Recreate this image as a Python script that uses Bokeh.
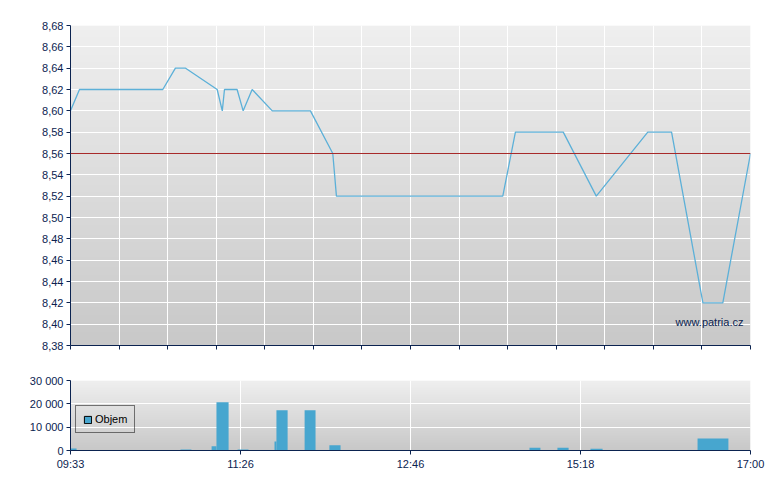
import numpy as np
from bokeh.plotting import figure
from bokeh.models import (Range1d, FixedTicker, CustomJSTickFormatter, Span, Label,
                          Legend, LegendItem, ColumnDataSource)
from bokeh.layouts import column
from bokeh.embed import file_html
from bokeh.resources import INLINE

# ---- data -------------------------------------------------------------
# x positions on the (trade-indexed) time axis, 0 = 09:33 ... 28 = 17:00
price_x = [0.00, 0.37, 3.80, 4.32, 4.74, 6.04, 6.25, 6.34, 6.86, 7.11, 7.48, 8.31,
           9.88, 10.80, 10.95, 17.80, 18.32, 20.29, 21.65, 23.77, 24.75, 26.04,
           26.86, 28.00]
price_y = [8.60, 8.62, 8.62, 8.64, 8.64, 8.62, 8.60, 8.62, 8.62, 8.60, 8.62, 8.60,
           8.60, 8.56, 8.52, 8.52, 8.58, 8.58, 8.52, 8.58, 8.58, 8.42, 8.42, 8.56]
ref_price = 8.56

vol_left = [0.00, 4.53, 5.81, 6.01, 6.88, 8.40, 8.48, 9.64, 10.66, 18.90, 20.05, 21.41, 25.82]
vol_right = [0.25, 4.98, 6.01, 6.51, 7.33, 8.48, 8.94, 10.09, 11.12, 19.35, 20.51, 21.91, 27.09]
vol_value = [900, 400, 1800, 20700, 400, 3900, 17300, 17300, 2200, 1200, 1200, 800, 5100]

x_grid_pos = [0, 2, 4, 6, 8, 10, 12, 14, 16, 18, 20, 22, 24, 26, 28]
x_tick_pos = [0, 7, 14, 21, 28]
x_tick_labels = ["09:33", "11:26", "12:46", "15:18", "17:00"]
price_ticks = [8.38, 8.40, 8.42, 8.44, 8.46, 8.48, 8.50, 8.52, 8.54, 8.56,
               8.58, 8.60, 8.62, 8.64, 8.66, 8.68]
vol_ticks = [0, 10000, 20000, 30000]

# ---- style ------------------------------------------------------------
NAVY = "#0b2350"
LINE = "#5cb0d8"
BAR = "#47a6cf"
FONT = "Liberation Sans"
FS = "11px"


def gradient(p, x0, x1, y0, y1, top=0xEF, bottom=0xC8):
    n = 128
    img = np.zeros((n, 1), dtype=np.uint32)
    v = img.view(dtype=np.uint8).reshape((n, 1, 4))
    for i in range(n):
        c = int(round(bottom + (top - bottom) * i / (n - 1)))
        v[i, 0, 0] = c
        v[i, 0, 1] = c
        v[i, 0, 2] = c
        v[i, 0, 3] = 255
    r = p.image_rgba(image=[img], x=x0, y=y0, dw=x1 - x0, dh=y1 - y0)
    r.level = "image"
    return r


def style_axis(ax):
    ax.axis_line_color = NAVY
    ax.axis_line_width = 1
    ax.major_tick_line_color = NAVY
    ax.major_tick_out = 4
    ax.major_tick_in = 0
    ax.minor_tick_line_color = None
    ax.major_label_text_color = NAVY
    ax.major_label_text_font = FONT
    ax.major_label_text_font_size = FS
    ax.major_label_standoff = 3


# ---- main price chart -------------------------------------------------
p = figure(frame_width=680, frame_height=320, output_backend="svg",
           toolbar_location=None, x_range=Range1d(0, 28),
           y_range=Range1d(8.38, 8.68),
           min_border_left=70, min_border_right=28, min_border_top=25,
           min_border_bottom=15)
p.outline_line_color = None
p.background_fill_color = "white"
p.border_fill_color = "white"
gradient(p, 0, 28, 8.38, 8.68)

p.xaxis.ticker = FixedTicker(ticks=x_grid_pos)
p.yaxis.ticker = FixedTicker(ticks=price_ticks)
p.yaxis.formatter = CustomJSTickFormatter(code="return tick.toFixed(2).replace('.', ',');")
style_axis(p.xaxis[0])
style_axis(p.yaxis[0])
p.xaxis.formatter = CustomJSTickFormatter(code="return '';")
p.xaxis.major_label_standoff = 0
for g in (p.xgrid[0], p.ygrid[0]):
    g.grid_line_color = "white"
    g.grid_line_width = 1

p.line(price_x, price_y, line_color=LINE, line_width=1.3)
p.add_layout(Span(location=ref_price, dimension="width", line_color="#a82a2a",
                  line_width=1))
p.add_layout(Label(x=27.71, y=8.396, text="www.patria.cz", text_align="right",
                   text_font=FONT, text_font_size=FS, text_color=NAVY))

# ---- volume chart -----------------------------------------------------
q = figure(frame_width=680, frame_height=70, output_backend="svg",
           toolbar_location=None, x_range=Range1d(0, 28),
           y_range=Range1d(0, 30000),
           min_border_left=70, min_border_right=28, min_border_top=20,
           min_border_bottom=25)
q.outline_line_color = None
q.background_fill_color = "white"
q.border_fill_color = "white"

vol_src = ColumnDataSource(dict(left=vol_left, right=vol_right, top=vol_value))
# legend swatch: black-edged copy of the bars, hidden underneath the background gradient
swatch = q.quad(left="left", right="right", bottom=0, top="top", source=vol_src,
                fill_color=BAR, line_color="black", line_width=1)
swatch.level = "image"
gradient(q, 0, 28, 0, 30000)

q.xaxis.ticker = FixedTicker(ticks=x_tick_pos)
q.xaxis.formatter = CustomJSTickFormatter(
    args=dict(pos=x_tick_pos, labels=x_tick_labels),
    code="const i = pos.indexOf(tick); return i >= 0 ? labels[i] : '';")
q.yaxis.ticker = FixedTicker(ticks=vol_ticks)
q.yaxis.formatter = CustomJSTickFormatter(
    code="return Math.round(tick).toString().replace(/\\B(?=(\\d{3})+(?!\\d))/g, ' ');")
style_axis(q.xaxis[0])
style_axis(q.yaxis[0])
for g in (q.xgrid[0], q.ygrid[0]):
    g.grid_line_color = "white"
    g.grid_line_width = 1

q.quad(left="left", right="right", bottom=0, top="top", source=vol_src,
       fill_color=BAR, line_color=None)
legend = Legend(items=[LegendItem(label="Objem", renderers=[swatch])],
                location=(5, 17), orientation="vertical",
                glyph_width=9, glyph_height=9, label_height=12,
                label_standoff=3, padding=7, spacing=0, margin=0,
                label_text_font=FONT, label_text_font_size=FS,
                label_text_color="black",
                background_fill_alpha=0, border_line_color="black",
                border_line_width=1)
q.add_layout(legend)

layout = column(p, q, spacing=0)
open("out.html", "w").write(file_html(layout, INLINE))
